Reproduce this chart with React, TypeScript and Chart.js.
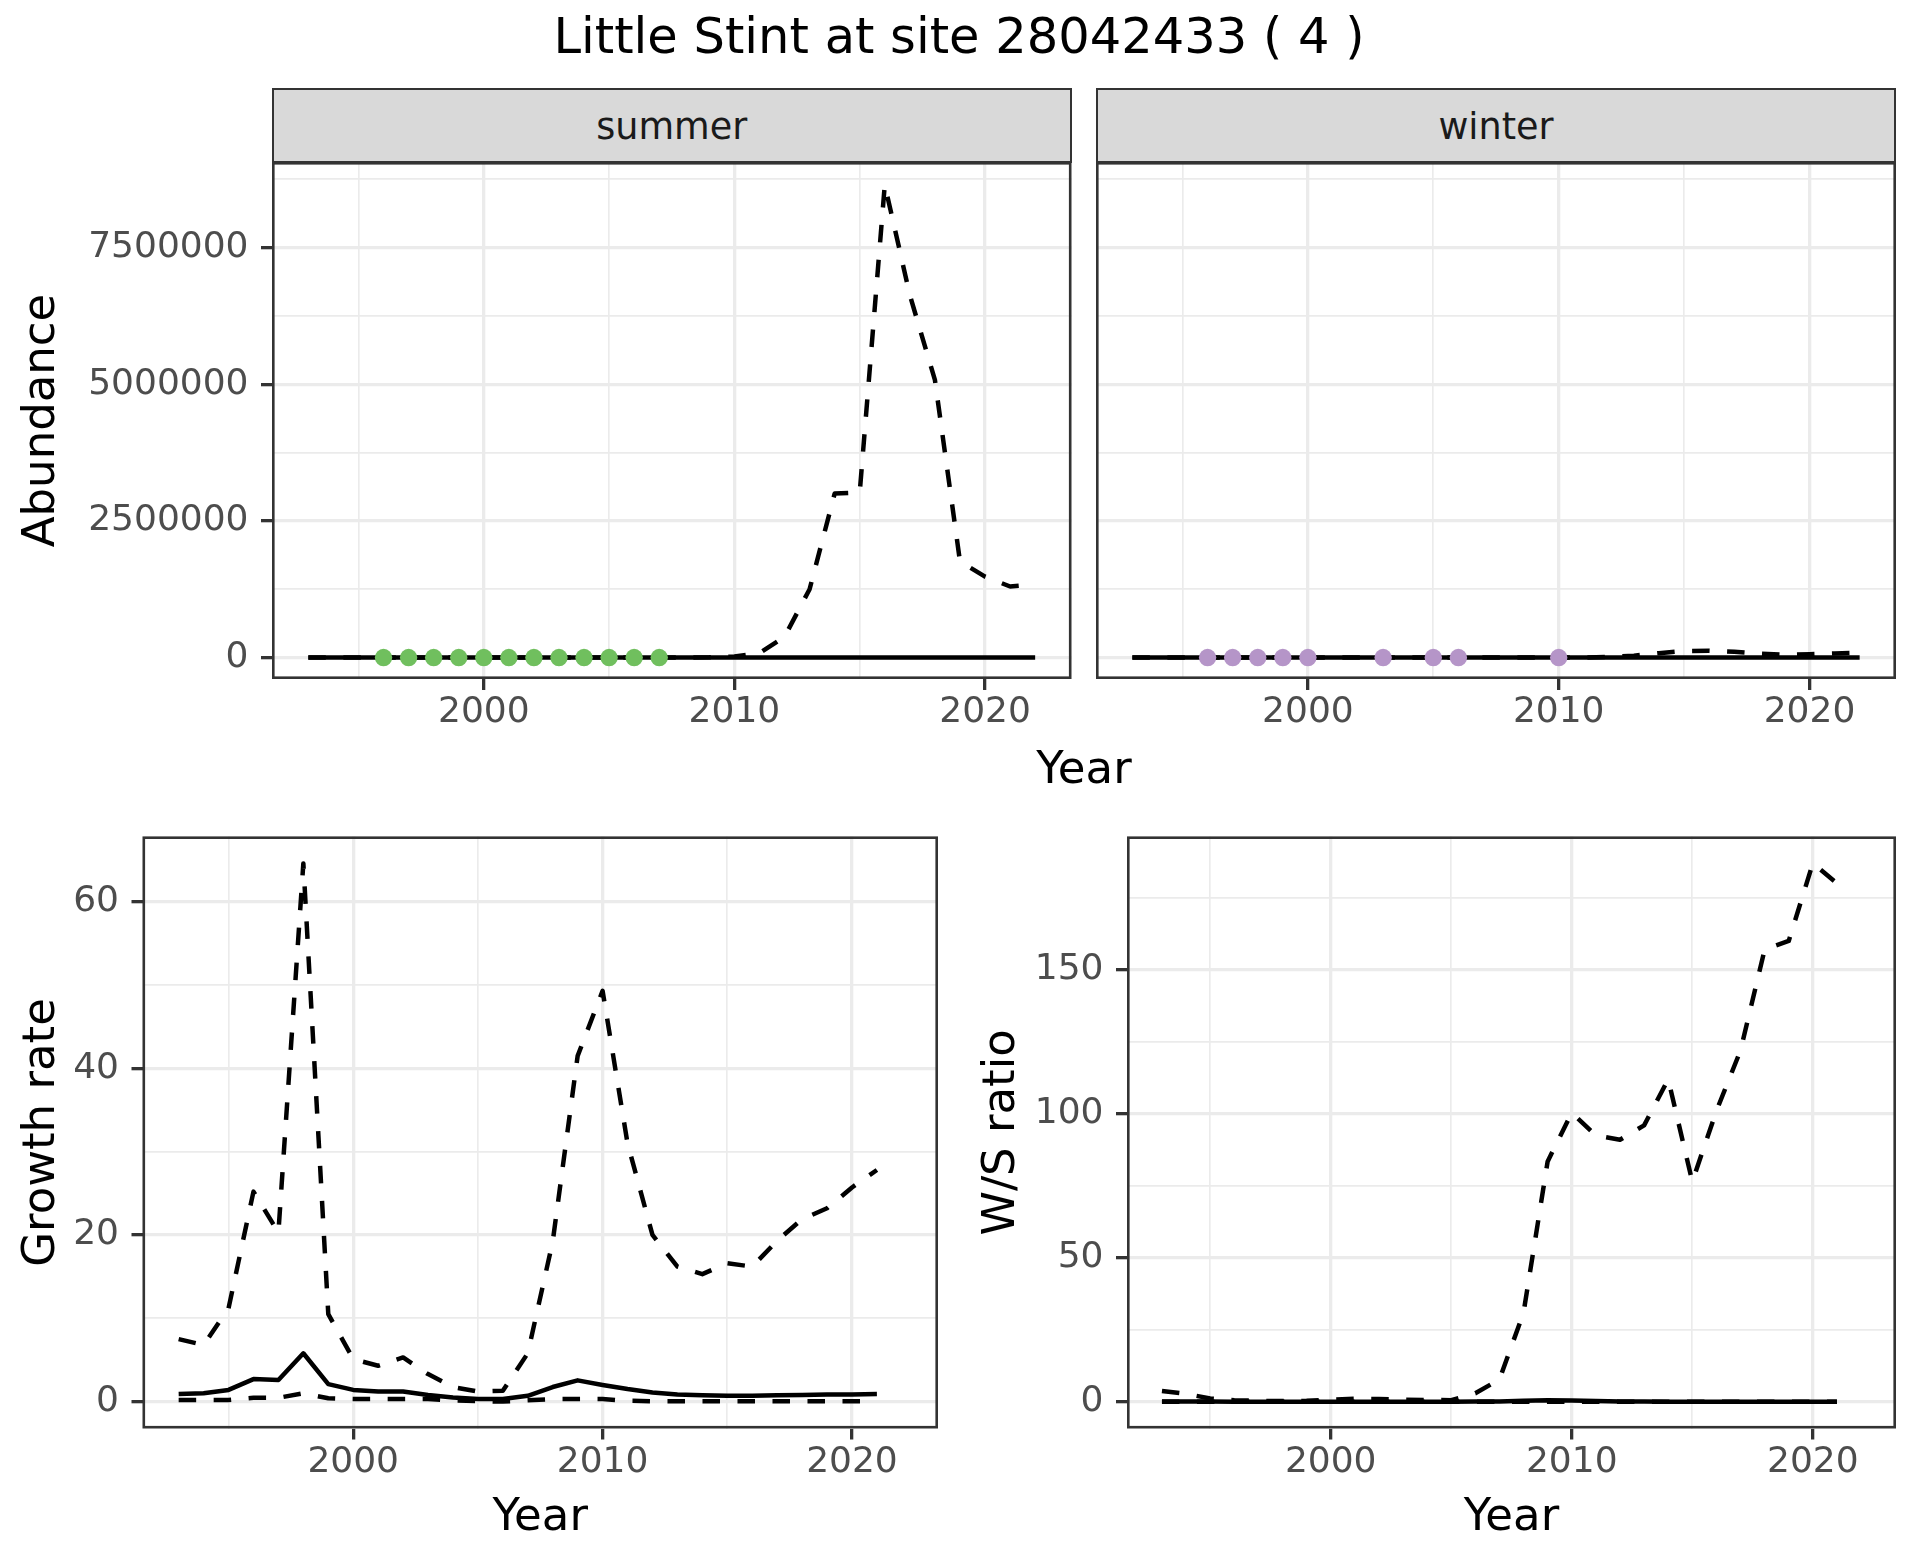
import React, { useEffect, useRef } from "react";
import { Chart, registerables } from "chart.js";

Chart.register(...registerables);

const FONT = "'DejaVu Sans', 'Noto Sans', sans-serif";

// ---------------- data ----------------
const years = [1993, 1994, 1995, 1996, 1997, 1998, 1999, 2000, 2001, 2002, 2003, 2004, 2005, 2006, 2007,
  2008, 2009, 2010, 2011, 2012, 2013, 2014, 2015, 2016, 2017, 2018, 2019, 2020, 2021, 2022];

const summerEstimate = [0, 0, 0, 0, 0, 0, 0, 0, 0, 0, 0, 0, 0, 0, 0,
  2000, 5000, 20000, 80000, 380000, 1250000, 3000000, 3020000, 8650000, 6630000, 5080000, 1760000, 1480000, 1300000, 1340000];
const summerModel = [0, 0, 0, 0, 0, 0, 0, 0, 0, 0, 0, 0, 0, 0, 0,
  0, 0, 0, 0, 0, 0, 0, 0, 0, 0, 0, 0, 0, 0, 0];
const summerObsYears = [1996, 1997, 1998, 1999, 2000, 2001, 2002, 2003, 2004, 2005, 2006, 2007];
const summerObsValues = [0, 0, 0, 0, 0, 0, 0, 0, 0, 0, 0, 0];

const winterEstimate = [0, 0, 0, 0, 0, 0, 0, 0, 0, 0, 0, 0, 0, 0, 0,
  0, 0, 0, 0, 10000, 35000, 80000, 120000, 125000, 105000, 70000, 50000, 60000, 75000, 85000];
const winterModel = [0, 0, 0, 0, 0, 0, 0, 0, 0, 0, 0, 0, 0, 0, 0,
  0, 0, 0, 0, 0, 0, 0, 0, 0, 0, 0, 0, 0, 0, 0];
const winterObsYears = [1996, 1997, 1998, 1999, 2000, 2003, 2005, 2006, 2010];
const winterObsValues = [0, 0, 0, 0, 0, 0, 0, 0, 0];

const rateYears = [1993, 1994, 1995, 1996, 1997, 1998, 1999, 2000, 2001, 2002, 2003, 2004, 2005, 2006, 2007,
  2008, 2009, 2010, 2011, 2012, 2013, 2014, 2015, 2016, 2017, 2018, 2019, 2020, 2021];

const growthUpper = [7.5, 6.8, 11.2, 25.2, 20.3, 64.6, 10.5, 5.1, 4.3, 5.3, 3.3, 1.75, 1.2, 1.3, 5.8,
  19.2, 41.5, 49.3, 31, 20, 16.2, 15.3, 16.6, 16.2, 19.3, 21.9, 23.2, 25.7, 27.8];
const growthMid = [0.9, 1.0, 1.4, 2.7, 2.6, 5.8, 2.1, 1.4, 1.2, 1.2, 0.8, 0.5, 0.3, 0.3, 0.7,
  1.75, 2.55, 2.0, 1.5, 1.1, 0.85, 0.75, 0.7, 0.7, 0.75, 0.8, 0.85, 0.85, 0.9];
const growthLower = [0.2, 0.2, 0.2, 0.45, 0.45, 1.0, 0.4, 0.3, 0.3, 0.3, 0.3, 0.15, 0.05, 0.0, 0.15,
  0.3, 0.3, 0.3, 0.1, 0.05, 0.05, 0.05, 0.05, 0.05, 0.05, 0.05, 0.05, 0.05, 0.05];

const ratioUpper = [3.8, 2.8, 1.2, 0.6, 0.4, 0.3, 0.4, 0.8, 1.1, 1.0, 0.8, 0.7, 0.6, 3.0, 7.8,
  31, 83.5, 100.4, 92.5, 91, 96, 112, 76.5, 101, 122, 157, 160, 187, 180];
const ratioMid = [0.2, 0.2, 0.15, 0.1, 0.1, 0.1, 0.1, 0.1, 0.1, 0.1, 0.1, 0.1, 0.1, 0.15, 0.2,
  0.4, 0.6, 0.5, 0.3, 0.2, 0.15, 0.1, 0.1, 0.1, 0.1, 0.1, 0.1, 0.1, 0.1];
const ratioLower = [0.1, 0.1, 0.05, 0.05, 0.05, 0.05, 0.05, 0.05, 0.05, 0.05, 0.05, 0.05, 0.05, 0.05, 0.05,
  0.05, 0.1, 0.1, 0.05, 0.05, 0.05, 0.05, 0.05, 0.05, 0.05, 0.05, 0.05, 0.05, 0.05];

const yearMajorTicks = [2000, 2010, 2020];
const yearMinorTicks = [1995, 2005, 2015];
const abundanceMajorTicks = [0, 2500000, 5000000, 7500000];
const abundanceMinorTicks = [1250000, 3750000, 6250000, 8750000];
const growthMajorTicks = [0, 20, 40, 60];
const growthMinorTicks = [10, 30, 50];
const ratioMajorTicks = [0, 50, 100, 150];
const ratioMinorTicks = [25, 75, 125, 175];

// ---------------- styling ----------------
const GRID = "#EBEBEB";
const DARK = "#333333";
const TICK_TEXT = "#4D4D4D";
const GREEN = "#70BF5E";
const PURPLE = "#B595C8";
const X_MIN = 1991.55;
const X_MAX = 2023.45;

const panelBorder = {
  id: "panelBorder",
  afterDatasetsDraw(chart: any) {
    const { ctx, chartArea } = chart;
    const { left, top, right, bottom } = chartArea;
    ctx.save();
    ctx.strokeStyle = DARK;
    ctx.lineWidth = 2.6;
    ctx.strokeRect(left + 1.3, top + 1.3, right - left - 2.6, bottom - top - 2.6);
    ctx.restore();
  },
};

function tickList(major: number[], minor: number[]) {
  return [...major, ...minor].sort((a, b) => a - b).map((v) => ({ value: v }));
}

function xScale(height: number, showTitle: boolean, titlePad: number) {
  return {
    type: "linear",
    min: X_MIN,
    max: X_MAX,
    afterBuildTicks: (axis: any) => {
      axis.ticks = tickList(yearMajorTicks, yearMinorTicks);
    },
    afterFit: (axis: any) => {
      axis.height = height;
    },
    ticks: {
      autoSkip: false,
      maxRotation: 0,
      minRotation: 0,
      padding: 1.5,
      color: TICK_TEXT,
      font: { family: FONT, size: 36, lineHeight: 1.2 },
      callback: (v: number) => (yearMajorTicks.includes(v) ? String(v) : ""),
    },
    grid: {
      color: GRID,
      lineWidth: (c: any) => (c.tick && yearMajorTicks.includes(c.tick.value) ? 3.3 : 1.65),
      drawTicks: true,
      tickLength: 11,
      tickWidth: 3.3,
      tickColor: (c: any) => (c.tick && yearMajorTicks.includes(c.tick.value) ? DARK : "rgba(0,0,0,0)"),
    },
    border: { display: false },
    title: {
      display: showTitle,
      text: "Year",
      color: "#000000",
      font: { family: FONT, size: 45, lineHeight: 1.2 },
      padding: { top: 0, bottom: titlePad },
    },
  };
}

function yScale(opts: {
  min: number; max: number; major: number[]; minor: number[]; width: number;
  showLabels: boolean; title?: string;
}) {
  const { min, max, major, minor, width, showLabels, title } = opts;
  return {
    type: "linear",
    min,
    max,
    afterBuildTicks: (axis: any) => {
      axis.ticks = tickList(major, minor);
    },
    afterFit: (axis: any) => {
      axis.width = width;
    },
    ticks: {
      display: showLabels,
      autoSkip: false,
      padding: 12.5,
      color: TICK_TEXT,
      font: { family: FONT, size: 36, lineHeight: 1.2 },
      callback: (v: number) => (major.includes(v) ? String(v) : ""),
    },
    grid: {
      color: GRID,
      lineWidth: (c: any) => (c.tick && major.includes(c.tick.value) ? 3.3 : 1.65),
      drawTicks: showLabels,
      tickLength: 11,
      tickWidth: 3.3,
      tickColor: (c: any) => (c.tick && major.includes(c.tick.value) ? DARK : "rgba(0,0,0,0)"),
    },
    border: { display: false },
    title: {
      display: !!title,
      text: title || "",
      color: "#000000",
      font: { family: FONT, size: 45, lineHeight: 1.2 },
      padding: { top: 15, bottom: 0 },
    },
  };
}

function lineSet(xs: number[], ys: number[], dashed: boolean, order: number) {
  return {
    type: "line",
    data: xs.map((x, i) => ({ x, y: ys[i] })),
    borderColor: "#000000",
    borderWidth: 4.5,
    borderDash: dashed ? [17.5, 17.5] : [],
    borderCapStyle: "butt",
    borderJoinStyle: "round",
    pointRadius: 0,
    tension: 0,
    fill: false,
    order,
  };
}

function pointSet(xs: number[], ys: number[], color: string) {
  return {
    type: "line",
    data: xs.map((x, i) => ({ x, y: ys[i] })),
    showLine: false,
    pointRadius: 8.7,
    pointBackgroundColor: color,
    pointBorderWidth: 0,
    pointBorderColor: color,
    order: 0,
  };
}

function makeConfig(datasets: any[], scales: any, padding: any) {
  return {
    type: "line",
    data: { datasets },
    options: {
      responsive: false,
      animation: false,
      devicePixelRatio: 1,
      events: [],
      layout: { padding },
      plugins: { legend: { display: false }, tooltip: { enabled: false }, title: { display: false } },
      scales,
    },
    plugins: [panelBorder],
  };
}

function ChartCanvas(props: { left: number; top: number; width: number; height: number; build: () => any }) {
  const ref = useRef<HTMLCanvasElement | null>(null);
  useEffect(() => {
    if (!ref.current) return;
    const chart = new Chart(ref.current, props.build());
    return () => chart.destroy();
  }, []);
  return (
    <canvas
      ref={ref}
      width={props.width}
      height={props.height}
      style={{ position: "absolute", left: props.left, top: props.top, width: props.width, height: props.height }}
    />
  );
}

const ABUND_MIN = -392500;
const ABUND_MAX = 9066000;

const buildSummer = () =>
  makeConfig(
    [
      pointSet(summerObsYears, summerObsValues, GREEN),
      lineSet(years, summerModel, false, 1),
      lineSet(years, summerEstimate, true, 2),
    ],
    {
      x: xScale(70, false, 0),
      y: yScale({ min: ABUND_MIN, max: ABUND_MAX, major: abundanceMajorTicks, minor: abundanceMinorTicks, width: 272, showLabels: true, title: "Abundance" }),
    },
    { top: 40, left: 0, right: 10.5, bottom: 0 }
  );

const buildWinter = () =>
  makeConfig(
    [
      pointSet(winterObsYears, winterObsValues, PURPLE),
      lineSet(years, winterModel, false, 1),
      lineSet(years, winterEstimate, true, 2),
    ],
    {
      x: xScale(70, false, 0),
      y: yScale({ min: ABUND_MIN, max: ABUND_MAX, major: abundanceMajorTicks, minor: abundanceMinorTicks, width: 12, showLabels: false }),
    },
    { top: 40, left: 0, right: 10, bottom: 0 }
  );

const buildGrowth = () =>
  makeConfig(
    [
      lineSet(rateYears, growthMid, false, 1),
      lineSet(rateYears, growthUpper, true, 2),
      lineSet(rateYears, growthLower, true, 3),
    ],
    {
      x: xScale(131.5, true, 15),
      y: yScale({ min: -3.23, max: 67.84, major: growthMajorTicks, minor: growthMinorTicks, width: 142.5, showLabels: true, title: "Growth rate" }),
    },
    { top: 40.4, left: 0, right: 10, bottom: 0 }
  );

const buildRatio = () =>
  makeConfig(
    [
      lineSet(rateYears, ratioMid, false, 1),
      lineSet(rateYears, ratioUpper, true, 2),
      lineSet(rateYears, ratioLower, true, 3),
    ],
    {
      x: xScale(131.5, true, 15),
      y: yScale({ min: -9.21, max: 196.3, major: ratioMajorTicks, minor: ratioMinorTicks, width: 167, showLabels: true, title: "W/S ratio" }),
    },
    { top: 40.4, left: 0, right: 10, bottom: 0 }
  );

function Strip(props: { left: number; width: number; label: string }) {
  return (
    <div
      style={{
        position: "absolute",
        left: props.left,
        top: 88,
        width: props.width,
        height: 75,
        boxSizing: "border-box",
        border: `2.6px solid ${DARK}`,
        background: "#D9D9D9",
        color: "#1A1A1A",
        fontFamily: FONT,
        fontSize: 36.6,
        lineHeight: "74px",
        textAlign: "center",
        whiteSpace: "nowrap",
      }}
    >
      {props.label}
    </div>
  );
}

export default function App() {
  return (
    <div
      style={{
        position: "absolute",
        left: 0,
        top: 0,
        width: 1920,
        height: 1560,
        background: "#FFFFFF",
        overflow: "hidden",
        fontFamily: FONT,
      }}
    >
      <div
        style={{
          position: "absolute",
          left: 0,
          top: 6.8,
          width: 1918,
          textAlign: "center",
          fontSize: 49.5,
          lineHeight: "58px",
          color: "#000000",
          whiteSpace: "nowrap",
        }}
      >
        Little Stint at site 28042433 ( 4 )
      </div>
      <Strip left={272} width={799.5} label="summer" />
      <Strip left={1096} width={800} label="winter" />
      <ChartCanvas left={0} top={122} width={1082} height={627} build={buildSummer} />
      <ChartCanvas left={1084} top={122} width={822} height={627} build={buildWinter} />
      <div
        style={{
          position: "absolute",
          left: 272,
          top: 742,
          width: 1624,
          textAlign: "center",
          fontSize: 45,
          lineHeight: "52px",
          color: "#000000",
          whiteSpace: "nowrap",
        }}
      >
        Year
      </div>
      <ChartCanvas left={0} top={796} width={948} height={764} build={buildGrowth} />
      <ChartCanvas left={960} top={796} width={946} height={764} build={buildRatio} />
    </div>
  );
}
